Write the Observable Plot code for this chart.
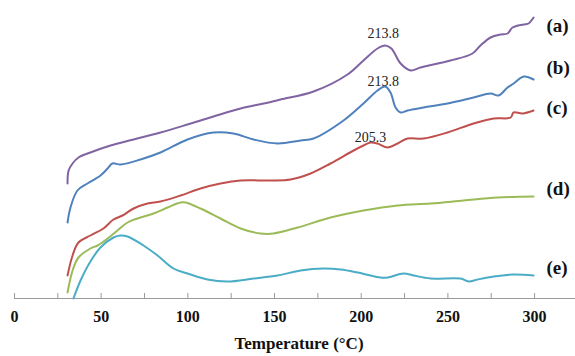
<!DOCTYPE html>
<html>
<head>
<meta charset="utf-8">
<script src="https://cdn.jsdelivr.net/npm/d3@7"></script>
<script src="https://cdn.jsdelivr.net/npm/@observablehq/plot@0.6"></script>
<style>
  html, body { margin: 0; padding: 0; background: #fff; }
</style>
</head>
<body>
<div id="chart"></div>
<script>
// Temperature (°C) and heat flow (arbitrary units)
const Ta = [30.6,31.2,33.5,36.9,43.8,55.4,68.7,84.2,99.8,114.8,130.4,143.7,153.5,172.5,192.1,201.3,209.4,213.8,217.4,222.7,228.5,234.2,251.5,264.2,268.8,274.6,280.4,284.4,287.3,293.7,296.5,299.4];
const Ha = [115,128,135,141,146,153,159,166,174,182,190,195,199,207,224,238,250,253,250,235,228,231,238,245,253,261,264,265,271,274,275,281];

const Tb = [30.6,32.3,36.3,42.1,49.6,53.7,56.5,61.2,72.7,84.2,99.8,114.8,126.3,137.9,151.7,165,172.5,189.8,201.3,209.4,213.8,216.9,219.8,222.7,226.7,236,249.8,264.8,274.6,279.2,284.4,287.9,293.7,299.4];
const Hb = [76,91,108,115,123,130,135,134,139,146,159,166,165,159,155,158,160,178,195,208,212,206,191,186,188,191,195,201,205,203,211,215,222,219];

const Tc = [30.6,33.5,36.9,43.8,51.3,57.1,62.3,68.7,76.7,84.2,95.8,107.3,118.8,130.4,147.7,159.2,170.8,182.3,195.6,201.3,205.3,209.4,215.2,221,226.7,236,249.8,264.8,276.4,286.2,287.9,293,299.4];
const Hc = [23,43,56,63,70,79,83,90,95,97,103,110,115,118,118,119,125,135,148,153,156,155,151,155,160,160,166,175,180,181,186,185,188];

const Td = [30.6,33.5,36.9,43.8,47.9,53.7,59.4,65.2,72.7,80.2,88.3,95.8,98.7,107.3,118.8,130.4,141.9,149.4,163.3,182.3,201.3,221,240,259,278.7,299.4];
const Hd = [6,28,41,50,53,60,68,76,81,85,91,96,96,90,80,70,65,65,71,81,88,93,95,98,101,102];

const Te = [34,38.1,43.8,49.6,57.1,61.2,65.2,74.4,82.5,91.7,99.8,111.3,122.9,137.9,151.7,165,178.3,188.1,197.9,211.2,215.2,224.4,230.2,240,257.3,261.9,267.1,276.4,287.9,299.4];
const He = [0,18,37,51,61,63,62,53,43,30,25,19,17,20,23,28,30,29,26,21,21,25,23,20,20,17,19,22,24,23];

const seriesNames = ["(a)","(b)","(c)","(d)","(e)"];
const seriesColors = ["#8064A2","#4F81BD","#C0504D","#9BBB59","#4BACC6"];
const xTicks = [0,25,50,75,100,125,150,175,200,225,250,275,300];
const xLabels = [0,50,100,150,200,250,300];
const peakA = {T: 213.8, label: "213.8"};
const peakB = {T: 213.8, label: "213.8"};
const peakC = {T: 205.3, label: "205.3"};

const build = (T, H, name) => T.map((t, i) => ({T: t, H: H[i], name}));
const sets = [build(Ta,Ha,"(a)"), build(Tb,Hb,"(b)"), build(Tc,Hc,"(c)"), build(Td,Hd,"(d)"), build(Te,He,"(e)")];
const all = sets.flat();
const peakPoint = (set, p) => ({...d3.least(set, d => Math.abs(d.T - p.T)), label: p.label});

const serif = "Liberation Serif";
const endDy = [8, -12, -3, -8, -8];

const marks = [
  Plot.ruleY([0], {stroke: "#9a9a9a", strokeWidth: 1}),
  Plot.ruleX(xTicks, {y1: 0, y2: 5, stroke: "#9a9a9a", strokeWidth: 1}),
  Plot.axisX(xLabels, {tickSize: 0, tickPadding: 12, fontSize: 16, fontWeight: "bold", fontFamily: serif, fill: "#111", label: null}),
  Plot.line(all, {x: "T", y: "H", z: "name", stroke: "name", strokeWidth: 2, curve: "catmull-rom"}),
  Plot.text([peakPoint(sets[0], peakA)], {x: "T", y: "H", text: "label", lineAnchor: "bottom", dy: -8, dx: -2, fontSize: 14, fontFamily: serif, fill: "#222"}),
  Plot.text([peakPoint(sets[1], peakB)], {x: "T", y: "H", text: "label", lineAnchor: "bottom", dy: -1, dx: -2, fontSize: 14, fontFamily: serif, fill: "#222"}),
  Plot.text([peakPoint(sets[2], peakC)], {x: "T", y: "H", text: "label", lineAnchor: "bottom", dy: -1, fontSize: 14, fontFamily: serif, fill: "#222"}),
  ...sets.map((s, i) => Plot.text([s[s.length - 1]], {x: "T", y: "H", text: "name", textAnchor: "start", dx: 13, dy: endDy[i], fontSize: 19, fontWeight: "bold", fontFamily: serif, fill: "#111"})),
  Plot.text(["Temperature (°C)"], {frameAnchor: "bottom", dy: 50, dx: 4, fontSize: 17, fontWeight: "bold", fontFamily: serif, fill: "#111"})
];

const chart = Plot.plot({
  width: 575,
  height: 356,
  marginLeft: 14,
  marginRight: 0,
  marginTop: 0,
  marginBottom: 58,
  style: {fontFamily: serif, background: "#fff"},
  x: {domain: [0, 323.6], axis: null},
  y: {domain: [0, 298], axis: null},
  color: {domain: seriesNames, range: seriesColors},
  marks
});
document.getElementById("chart").append(chart);
</script>
</body>
</html>
